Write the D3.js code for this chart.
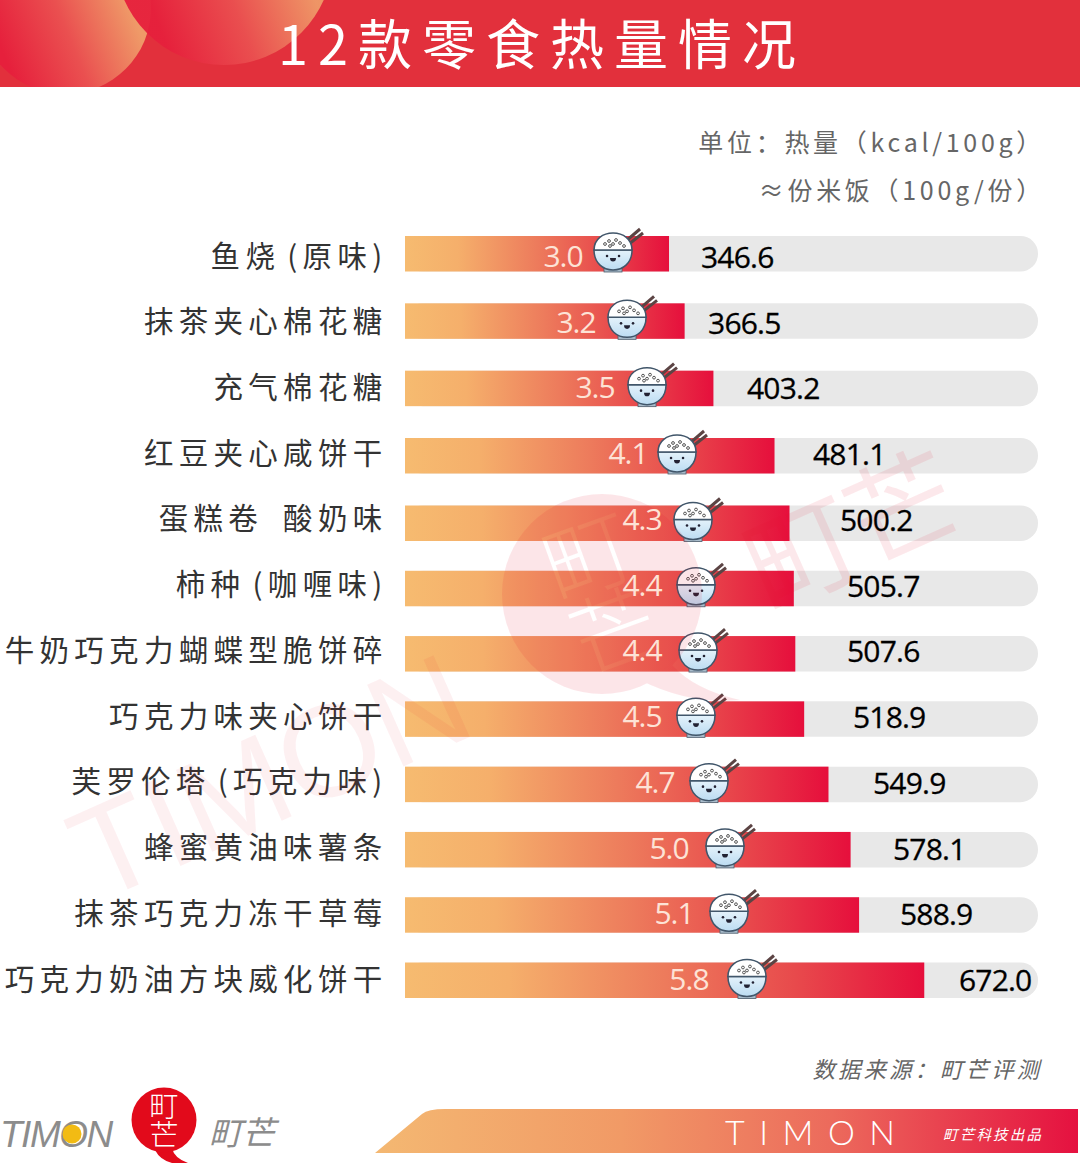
<!DOCTYPE html>
<html>
<head>
<meta charset="utf-8">
<script src="https://cdnjs.cloudflare.com/ajax/libs/d3/7.8.5/d3.min.js"></script>
<style>
html,body{margin:0;padding:0;background:#fff}
svg{display:block}
text{font-family:"Noto Sans CJK SC","Noto Sans",sans-serif}
</style>
</head>
<body>
<div id="chart"></div>
<script>
// Snack names, energy per 100 g, and the equivalent servings of rice
const snacks = ["鱼烧\u200A(原味)","抹茶夹心棉花糖","充气棉花糖","红豆夹心咸饼干","蛋糕卷\u2002酸奶味","柿种\u200A(咖喱味)","牛奶巧克力蝴蝶型脆饼碎","巧克力味夹心饼干","芙罗伦塔\u200A(巧克力味)","蜂蜜黄油味薯条","抹茶巧克力冻干草莓","巧克力奶油方块威化饼干"];
const calories = [346.6,366.5,403.2,481.1,500.2,505.7,507.6,518.9,549.9,578.1,588.9,672.0];
const riceServings = [3.0,3.2,3.5,4.1,4.3,4.4,4.4,4.5,4.7,5.0,5.1,5.8];

// Hand-placed annotation offsets, measured from the end of each bar
const calorieLabelGap = [32,23.4,33.6,38.5,50.5,53.2,51.7,48.8,44.5,42.4,40.9,34.7];
const bowlInset = [56,57.6,66.4,97.5,96.5,97.8,97.3,108.2,119.5,125.6,130.1,177.3];
const servingLabelInset = [106,108.6,118.4,146.5,147.5,151.8,153.3,162.2,173.5,181.6,185.1,235.3];

const W = 1080, H = 1163;
const svg = d3.select("#chart").append("svg").attr("width",W).attr("height",H).attr("viewBox",[0,0,W,H]);
const defs = svg.append("defs");

function linear(id, stops, attrs){
  const g = defs.append("linearGradient").attr("id",id);
  Object.entries(attrs||{}).forEach(([k,v])=>g.attr(k,v));
  stops.forEach(([o,c])=>g.append("stop").attr("offset",o).attr("stop-color",c));
}
linear("barFill",[[0,"#f6bb70"],[0.2,"#f5af6b"],[0.5,"#ed7b5c"],[0.75,"#e84a4c"],[1,"#e60f3c"]]);
linear("footFill",[[0,"#f4b872"],[0.35,"#f19a66"],[0.65,"#ec6a5c"],[1,"#e51140"]]);
linear("bowlFill",[[0,"#e4f2fb"],[1,"#bcdcf2"]],{x1:0,y1:0,x2:0,y2:1});
const blobStops = [[0,"#e6203c"],[0.5,"#ea5050"],[1,"#ef9a68"]];
linear("blobA",blobStops,{gradientUnits:"userSpaceOnUse",x1:10,y1:70,x2:135,y2:20});
linear("blobB",blobStops,{gradientUnits:"userSpaceOnUse",x1:170,y1:55,x2:315,y2:0});

// Header band
svg.append("rect").attr("width",W).attr("height",87).attr("fill","#e2303c");
defs.append("clipPath").attr("id","headerClip").append("rect").attr("width",W).attr("height",87);
const blobs = svg.append("g").attr("clip-path","url(#headerClip)");
blobs.append("circle").attr("cx",65).attr("cy",8).attr("r",86).attr("fill","url(#blobA)");
blobs.append("circle").attr("cx",224).attr("cy",-44).attr("r",109).attr("fill","url(#blobB)").attr("opacity",.95);
svg.append("text").attr("x",278).attr("y",65).attr("fill","#fff").attr("font-size",54).attr("font-weight",400)
  .attr("letter-spacing",10).text("12款零食热量情况");

// Units
const unitText = (y,t)=>svg.append("text").attr("x",1045).attr("y",y).attr("text-anchor","end")
  .attr("fill","#666").attr("font-size",25).attr("letter-spacing",3.7).text(t);
unitText(152,"单位：热量（kcal/100g）");
unitText(200,"≈份米饭（100g/份）");

// Scales: bars, row labels and value labels sit on slightly different vertical rhythms
const x = d3.scaleLinear().domain([10,817]).range([405,1038]);
const y = d3.scaleLinear().domain([0,3,4,11]).range([236,438,505.5,962.5]);
const labelY = d3.scaleLinear().domain([0,11]).range([266.5,989.5]);
const valueY = d3.scaleLinear().domain([0,11]).range([268,991]);
const barH = 35.5;

svg.append("g").selectAll("text").data(snacks).join("text")
  .attr("x",387.5).attr("y",(d,i)=>labelY(i)).attr("text-anchor","end")
  .attr("font-size",29.5).attr("font-weight",400).attr("letter-spacing",5.3).attr("fill","#333")
  .text(d=>d);

const rows = svg.append("g").selectAll("g").data(calories).join("g")
  .attr("transform",(d,i)=>`translate(0,${y(i)})`);

// Track with a rounded right end, then the value bar over it
rows.append("rect").attr("x",x.range()[0]).attr("width",x.range()[1]-x.range()[0]).attr("height",barH)
  .attr("rx",17.5).attr("fill","#e8e8e8");
rows.append("rect").attr("x",x.range()[0]).attr("width",d=>x(d)-x.range()[0]).attr("height",barH)
  .attr("fill","url(#barFill)");

// Rice bowl icon
const bowl = defs.append("symbol").attr("id","bowl").attr("viewBox","-22 -24 56 50").attr("overflow","visible");
bowl.append("path").attr("d","M13,-9 L27,-21 M16,-6 L30,-17").attr("stroke","#5c4444").attr("stroke-width",3).attr("fill","none");
bowl.append("rect").attr("x",-9).attr("y",16).attr("width",18).attr("height",6).attr("fill","#a9bccb").attr("stroke","#4a5a6a").attr("stroke-width",.8);
bowl.append("path").attr("d","M-19,0 C-19,13 -10,20 0,20 C10,20 19,13 19,0 Z").attr("fill","url(#bowlFill)").attr("stroke","#41566a").attr("stroke-width",1.5);
bowl.append("path").attr("d","M-19,0 C-19,-11 -10,-17 0,-17 C10,-17 19,-11 19,0 Z").attr("fill","#fff").attr("stroke","#41566a").attr("stroke-width",1.5);
[[-8,-6],[-4,-9],[0,-6],[3,-10],[7,-7],[11,-4],[-3,-4]].forEach(([cx,cy])=>
  bowl.append("circle").attr("cx",cx).attr("cy",cy).attr("r",1.4).attr("fill","#fff").attr("stroke","#444").attr("stroke-width",.9));
[-6,6].forEach(cx=>bowl.append("circle").attr("cx",cx).attr("cy",6).attr("r",1.3).attr("fill","#223"));
bowl.append("path").attr("d","M-3,8 H3 A3,3.6 0 0 1 -3,8 Z").attr("fill","#223");

rows.append("use").attr("href","#bowl").attr("width",56).attr("height",50)
  .attr("x",(d,i)=>x(d)-bowlInset[i]-22).attr("y",-10);

// Faint brand mark laid over the bars, with its glyph knocked out of the disc
const markMask = defs.append("mask").attr("id","markMask").attr("maskUnits","userSpaceOnUse")
  .attr("x",0).attr("y",0).attr("width",W).attr("height",H);
markMask.append("rect").attr("width",W).attr("height",H).attr("fill","#fff");
const markGlyph = markMask.append("g").attr("transform","translate(602,594) rotate(-20)")
  .attr("fill","#000").attr("text-anchor","middle").attr("font-size",88).attr("font-weight",300);
markGlyph.append("text").attr("y",-8).text("町");
markGlyph.append("text").attr("y",72).text("芒");

const mark = svg.append("g");
const disc = mark.append("g").attr("mask","url(#markMask)").attr("opacity",.1);
disc.append("circle").attr("cx",602).attr("cy",594).attr("r",100).attr("fill","#e60f2c");
disc.append("path").attr("d","M672,665 Q695,690 740,700 Q690,705 640,680 Z").attr("fill","#e60f2c");
mark.append("text").attr("transform","translate(97,903) rotate(-24)").attr("font-size",130).attr("opacity",.06)
  .attr("fill","#e60f2c").style("font-family","'Liberation Sans'").text("TIMON");
mark.append("text").attr("transform","translate(768,612) rotate(-24)").attr("font-size",110).attr("opacity",.09)
  .attr("fill","#e60f2c").text("町芒");

// Value labels sit above the mark
svg.append("g").selectAll("text").data(riceServings).join("text")
  .attr("x",(d,i)=>x(calories[i])-servingLabelInset[i]).attr("y",(d,i)=>valueY(i)-1).attr("text-anchor","middle")
  .style("font-family","'Open Sans'").attr("font-size",30).attr("letter-spacing",-1).attr("fill","#fde3d6")
  .text(d=>d3.format(".1f")(d));

svg.append("g").selectAll("text").data(calories).join("text")
  .attr("x",(d,i)=>x(d)+calorieLabelGap[i]).attr("y",(d,i)=>valueY(i))
  .style("font-family","'Open Sans'").attr("font-size",30).attr("letter-spacing",-.8).attr("fill","#000")
  .attr("stroke","#000").attr("stroke-width",.3)
  .text(d=>d3.format(".1f")(d));

// Footer
svg.append("text").attr("x",1042).attr("y",1078).attr("text-anchor","end").attr("font-size",22.5).attr("font-style","italic")
  .attr("letter-spacing",3).attr("fill","#666").text("数据来源：町芒评测");

svg.append("path").attr("d","M375,1153L422,1114Q428,1109 445,1109L1078,1109L1078,1153Z").attr("fill","url(#footFill)");
svg.append("text").attr("x",725).attr("y",1145).attr("fill","#fff").attr("font-size",34).style("font-family","Lato").attr("font-weight",300)
  .attr("letter-spacing",14.5).text("TIMON");
svg.append("text").attr("x",943).attr("y",1140).attr("fill","#fff").attr("font-size",14.5).attr("font-style","italic")
  .attr("letter-spacing",2.2).text("町芒科技出品");

// Logo lockup
svg.append("text").attr("x",0).attr("y",1147).attr("font-size",37).attr("font-style","italic").attr("letter-spacing",-1.5)
  .style("font-family","'Liberation Sans'").attr("fill","#8c8c8c").text("TIMON");
svg.append("circle").attr("cx",72).attr("cy",1134).attr("r",9.5).attr("fill","#f2bb13");
svg.append("path").attr("d","M172,1148 Q174,1158 188,1163 L172,1163 Q160,1160 155,1150 Z").attr("fill","#e20a1b");
svg.append("circle").attr("cx",164).attr("cy",1120).attr("r",32.5).attr("fill","#e20a1b");
svg.append("text").attr("x",164).attr("y",1120).attr("text-anchor","middle").style("writing-mode","vertical-rl")
  .attr("font-size",29).attr("font-weight",300).attr("fill","#fff").text("町芒");
svg.append("text").attr("x",209).attr("y",1145).attr("font-size",33).attr("font-style","italic").attr("fill","#8c8c8c").text("町芒");
</script>
</body>
</html>
